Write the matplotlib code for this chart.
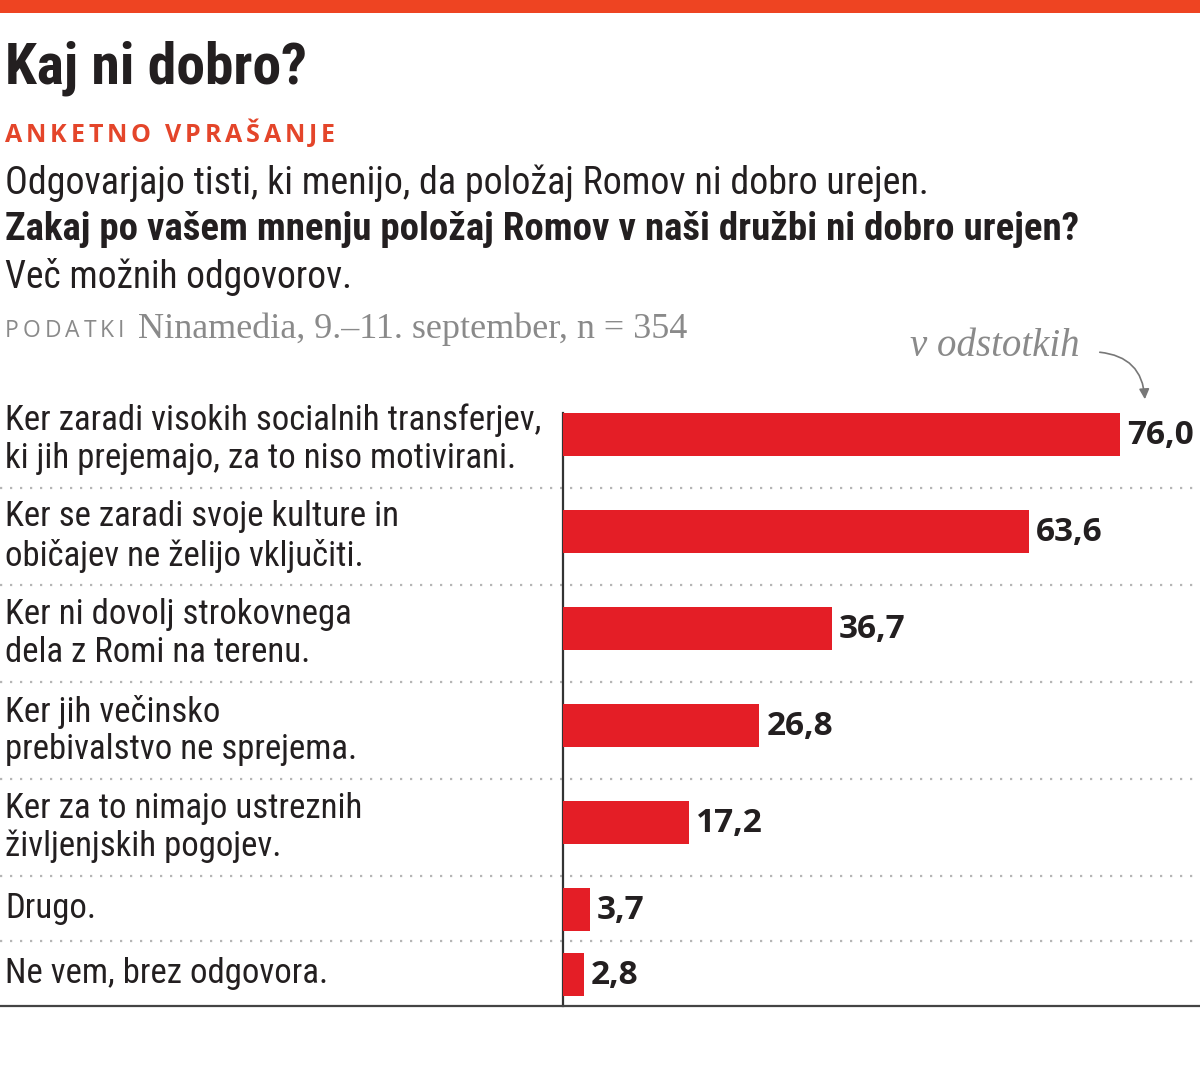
import matplotlib
matplotlib.use("Agg")
import matplotlib.pyplot as plt
from matplotlib import font_manager as fm
from matplotlib.patches import FancyArrowPatch

# ---------------- data ----------------
categories = [
    "Ker zaradi visokih socialnih transferjev,\nki jih prejemajo, za to niso motivirani.",
    "Ker se zaradi svoje kulture in\nobičajev ne želijo vključiti.",
    "Ker ni dovolj strokovnega\ndela z Romi na terenu.",
    "Ker jih večinsko\nprebivalstvo ne sprejema.",
    "Ker za to nimajo ustreznih\nživljenjskih pogojev.",
    "Drugo.",
    "Ne vem, brez odgovora.",
]
values = [76.0, 63.6, 36.7, 26.8, 17.2, 3.7, 2.8]
value_labels = ["76,0", "63,6", "36,7", "26,8", "17,2", "3,7", "2,8"]

title = "Kaj ni dobro?"
kicker = "ANKETNO VPRAŠANJE"
intro = "Odgovarjajo tisti, ki menijo, da položaj Romov ni dobro urejen."
question = "Zakaj po vašem mnenju položaj Romov v naši družbi ni dobro urejen?"
note = "Več možnih odgovorov."
source_kicker = "PODATKI"
source = "Ninamedia, 9.–11. september, n = 354"
unit = "v odstotkih"


def pick(cands):
    for c in cands:
        try:
            fm.findfont(fm.FontProperties(family=c), fallback_to_default=False)
            return c
        except Exception:
            pass
    return "DejaVu Sans"


COND = pick(["Liberation Sans Narrow", "DejaVu Sans Condensed", "Roboto Condensed", "Open Sans Condensed", "Roboto"])
SERIF = pick(["Liberation Serif", "DejaVu Serif"])
NUM = pick(["Open Sans", "Roboto", "DejaVu Sans"])

W, H = 1200, 1074
fig = plt.figure(figsize=(W / 100, H / 100), dpi=100)
fig.patch.set_facecolor("white")

# overlay axes in pixel units for layout
ov = fig.add_axes([0, 0, 1, 1])
ov.set_xlim(0, W)
ov.set_ylim(H, 0)
ov.axis("off")

DARK = "#231f20"
GRAY = "#8a8a8a"
ORANGE = "#e4452a"
RED = "#e41e26"

# top red band
ov.fill_between([0, W], 0, 13, color="#ee4422", lw=0)

ov.text(5, 68, title, family=COND, weight="bold", fontsize=41.5, color=DARK, va="center", ha="left")

renderer = fig.canvas.get_renderer()


def spaced(x, y, s, spacing, **kw):
    for ch in s:
        t = ov.text(x, y, ch, va="center", ha="left", **kw)
        bb = t.get_window_extent(renderer=renderer)
        x += bb.width + spacing
    return x


spaced(5, 135, kicker, 3.8, family=NUM, weight="bold", fontsize=18, color=ORANGE)
ov.text(5, 183, intro, family=COND, fontsize=27.4, color=DARK, va="center")
ov.text(5, 230, question, family=COND, weight="bold", fontsize=28, color=DARK, va="center")
ov.text(5, 277, note, family=COND, fontsize=27, color=DARK, va="center")
xe = spaced(5, 331, source_kicker, 4.0, family=NUM, fontsize=16.5, color=GRAY)
ov.text(138, 329, source, family=SERIF, fontsize=26, color=GRAY, va="center")
ov.text(1080, 347, unit, family=SERIF, style="italic", fontsize=28, color=GRAY, va="center", ha="right")
ov.add_patch(FancyArrowPatch((1097, 352), (1145, 402), connectionstyle="arc3,rad=-0.45",
                             arrowstyle="-|>,head_length=6,head_width=3", color="#777777", lw=1.2))

# rows layout
top = 391
row_tops, row_h = [], []
y = top
for c in categories:
    n = c.count("\n") + 1
    h = 97 if n == 2 else 65
    row_tops.append(y)
    row_h.append(h)
    y += h
bottom = y

bar_centers = [t + (43 if h == 97 else 33) for t, h in zip(row_tops, row_h)]

# bar axes
x0_px, px_per = 563, 7.33
bx = fig.add_axes([x0_px / W, 0, (W - x0_px) / W, 1])
bx.set_xlim(0, (W - x0_px) / px_per)
bx.set_ylim(H, 0)
bx.axis("off")
bx.patch.set_alpha(0)
bx.barh(bar_centers, values, height=43, color=RED, lw=0)
for yc, v, lab in zip(bar_centers, values, value_labels):
    bx.annotate(lab, (v, yc), xytext=(5, -1), textcoords="offset points", family=NUM,
                weight="bold", fontsize=24, color=DARK, va="center", ha="left")

# labels and separators
for t, h, c in zip(row_tops, row_h, categories):
    ov.text(5, t + h / 2, c, family=COND, fontsize=25, color=DARK, va="center", ha="left",
            linespacing=1.19)
for t in row_tops[1:]:
    ov.plot([0, W], [t, t], color="#b5b5b5", lw=1.6, ls=(0, (1, 3.5)), solid_capstyle="butt")

ov.plot([x0_px, x0_px], [bar_centers[0] - 21.5, bottom], color="#333333", lw=1.6)
ov.plot([0, W], [bottom, bottom], color="#444444", lw=1.6)

fig.savefig("out.png", dpi=100, facecolor="white")
